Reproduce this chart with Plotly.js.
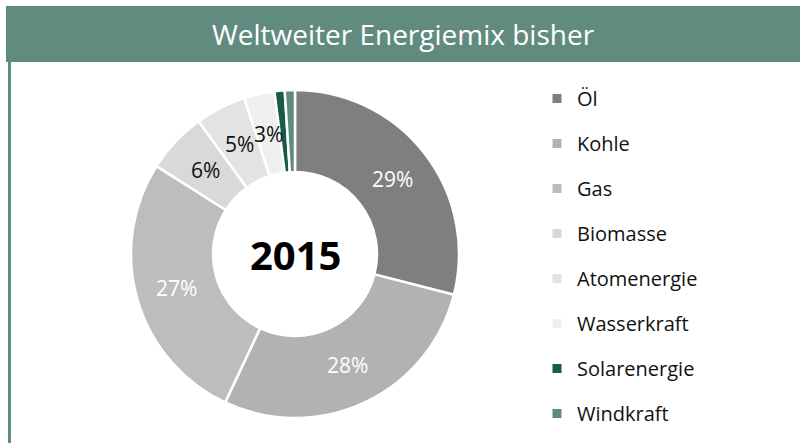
<!DOCTYPE html>
<html>
<head>
<meta charset="utf-8">
<script src="https://cdn.plot.ly/plotly-3.0.1.min.js"></script>
<style>
html,body{margin:0;padding:0;background:#fff;}
#chart{width:800px;height:443px;}
</style>
</head>
<body>
<div id="chart"></div>
<script>
const chartTitle = "Weltweiter Energiemix bisher";
const centerLabel = "2015";
const categories = ["Öl", "Kohle", "Gas", "Biomasse", "Atomenergie", "Wasserkraft", "Solarenergie", "Windkraft"];
const shares = [29, 28, 27, 6, 5, 3, 1, 1];
const colors = ["#7f7f7f", "#b2b2b2", "#bdbdbd", "#d9d9d9", "#e3e3e3", "#efefef", "#175c48", "#5f8b7e"];
const labelColors = ["#ffffff", "#ffffff", "#ffffff", "#111111", "#111111", "#111111", "#111111", "#111111"];
const minLabelShare = 2;

const FONT = "Open Sans, Liberation Sans, sans-serif";
const W = 800, H = 443;
const cx = 295, cy = 254, R = 164, HOLE = 0.5;

const pie = {
  type: "pie",
  labels: categories,
  values: shares,
  sort: false,
  direction: "clockwise",
  rotation: 0,
  hole: HOLE,
  marker: {colors: colors, line: {color: "#ffffff", width: 2.5}},
  textinfo: "none",
  showlegend: false,
  domain: {x: [(cx - R) / W, (cx + R) / W], y: [1 - (cy + R) / H, 1 - (cy - R) / H]},
  hoverinfo: "none"
};

// percentage labels placed at the middle of the ring, at each slice's mid-angle (derived from the data)
const total = shares.reduce((a, b) => a + b, 0);
const rMid = R * (1 + HOLE) / 2;
const labelAnnotations = [];
let cum = 0;
shares.forEach((v, i) => {
  const theta = (cum + v / 2) / total * 2 * Math.PI;
  cum += v;
  if (v < minLabelShare) return;
  labelAnnotations.push({
    text: Math.round(v / total * 100) + "%",
    xref: "paper", yref: "paper",
    x: (cx + rMid * Math.sin(theta)) / W,
    y: 1 - (cy - rMid * Math.cos(theta)) / H,
    xanchor: "center", yanchor: "middle", showarrow: false,
    font: {family: FONT, size: 21, color: labelColors[i]}
  });
});

const legendTraces = categories.map((c, i) => ({
  type: "scatter",
  mode: "markers",
  x: [null], y: [null],
  name: c,
  legendgroup: "g" + i,
  marker: {symbol: "square", size: 9, color: colors[i]},
  showlegend: true,
  hoverinfo: "none"
}));

const layout = {
  width: W, height: H,
  margin: {l: 0, r: 0, t: 0, b: 0},
  paper_bgcolor: "#ffffff",
  plot_bgcolor: "rgba(0,0,0,0)",
  xaxis: {visible: false},
  yaxis: {visible: false},
  title: {
    text: chartTitle,
    font: {family: FONT, size: 28, color: "#ffffff"},
    x: (6 + W) / 2 / W, xanchor: "center", xref: "paper",
    y: 1 - 35 / H, yanchor: "middle", yref: "paper"
  },
  showlegend: true,
  legend: {
    x: 537 / W, xanchor: "left",
    y: 1 - 79 / H, yanchor: "top",
    font: {family: FONT, size: 20, color: "#111111"},
    tracegroupgap: 16,
    itemclick: false,
    bgcolor: "rgba(0,0,0,0)"
  },
  shapes: [
    {type: "rect", xref: "paper", yref: "paper", x0: 6 / W, x1: 1, y0: 1 - 62 / H, y1: 1 - 6 / H,
     fillcolor: "#628b7f", line: {width: 0}, layer: "below"},
    {type: "line", xref: "paper", yref: "paper", x0: 9.5 / W, x1: 9.5 / W, y0: 0, y1: 1 - 62 / H,
     line: {color: "#628b7f", width: 3}}
  ],
  annotations: [
    {text: "<b>" + centerLabel + "</b>", xref: "paper", yref: "paper", x: cx / W, y: 1 - cy / H,
     xanchor: "center", yanchor: "middle", showarrow: false,
     font: {family: FONT, size: 40, color: "#000000"}}
  ].concat(labelAnnotations)
};

Plotly.newPlot("chart", [pie].concat(legendTraces), layout, {displayModeBar: false, staticPlot: true});
</script>
</body>
</html>
